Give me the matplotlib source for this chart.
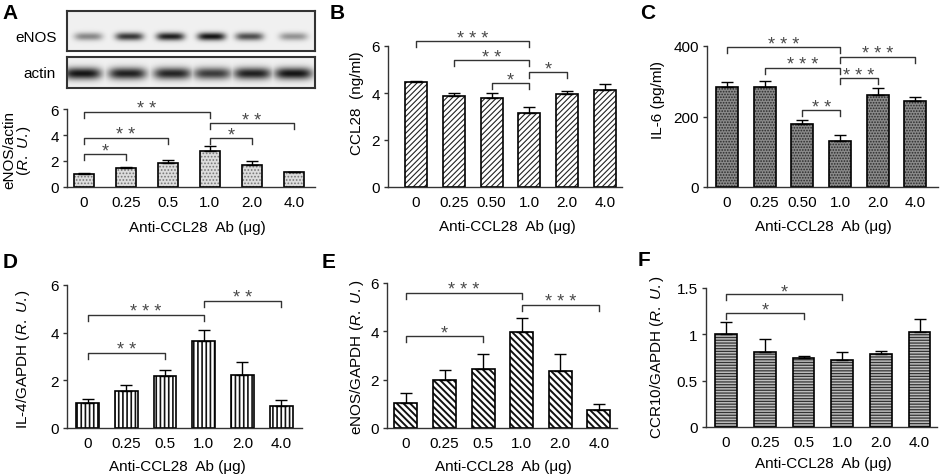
import numpy as np
import matplotlib
matplotlib.use("Agg")
import matplotlib.pyplot as plt

plt.rcParams['font.family'] = ['Liberation Sans', 'DejaVu Sans']
plt.rcParams['mathtext.fontset'] = 'custom'
plt.rcParams['mathtext.rm'] = 'Liberation Sans'
plt.rcParams['mathtext.it'] = 'Liberation Sans:italic'

# --- data ---
doses_short = ['0', '0.25', '0.5', '1.0', '2.0', '4.0']
doses_long = ['0', '0.25', '0.50', '1.0', '2.0', '4.0']

# western blot band strengths (0..1, darker = stronger)
enos_bands = [0.45, 0.8, 0.9, 0.95, 0.7, 0.4]
actin_bands = [0.95, 0.9, 0.88, 0.78, 0.9, 0.95]

enos_actin = [1.0, 1.49, 1.85, 2.8, 1.72, 1.18]
enos_actin_err = [0.1, 0.05, 0.23, 0.38, 0.28, 0.0]

ccl28 = [4.47, 3.87, 3.79, 3.14, 3.96, 4.14]
ccl28_err = [0.03, 0.15, 0.2, 0.28, 0.14, 0.24]

il6 = [284, 284, 179, 131, 262, 245]
il6_err = [14, 16, 12, 17, 18, 9]

il4 = [1.03, 1.54, 2.17, 3.66, 2.22, 0.94]
il4_err = [0.19, 0.28, 0.28, 0.47, 0.56, 0.23]

enos_gapdh = [1.02, 1.99, 2.46, 3.97, 2.36, 0.76]
enos_gapdh_err = [0.42, 0.41, 0.59, 0.59, 0.69, 0.23]

ccr10 = [1.0, 0.81, 0.75, 0.72, 0.79, 1.03]
ccr10_err = [0.13, 0.14, 0.015, 0.09, 0.03, 0.14]

# significance brackets: (from bar, to bar, height, stars)
sig_a = [(0, 3, 5.77, '* *'), (0, 2, 3.77, '* *'), (0, 1, 2.54, '*'),
         (3, 5, 4.92, '* *'), (3, 4, 3.77, '*')]
sig_b = [(0, 3, 6.21, '* * *'), (1, 3, 5.40, '* *'), (2, 3, 4.43, '*'), (3, 4, 4.89, '*')]
sig_c = [(0, 3, 397, '* * *'), (1, 3, 338, '* * *'), (3, 5, 369, '* * *'),
         (3, 4, 309, '* * *'), (2, 3, 218, '* *')]
sig_d = [(0, 3, 4.76, '* * *'), (0, 2, 3.15, '* *'), (3, 5, 5.34, '* *')]
sig_e = [(0, 3, 5.59, '* * *'), (0, 2, 3.80, '*'), (3, 5, 5.11, '* * *')]
sig_f = [(0, 3, 1.43, '*'), (0, 2, 1.23, '*')]

W, H = 941, 477
fig = plt.figure(figsize=(W / 100, H / 100), dpi=100)
fig.patch.set_facecolor('white')

FS = 11


def px_axes(left, top, right, bottom):
    return fig.add_axes([left / W, 1 - bottom / H, (right - left) / W, (bottom - top) / H])


def fig_text(x, y, s, **kw):
    fig.text(x / W, 1 - y / H, s, **kw)


def style(ax, ticks, ticklabels, ymax, xlim):
    for side in ['top', 'right']:
        ax.spines[side].set_visible(False)
    for side in ['left', 'bottom']:
        ax.spines[side].set_linewidth(1)
        ax.spines[side].set_color('#333333')
    ax.set_ylim(0, ymax)
    ax.set_xlim(*xlim)
    ax.set_yticks(ticks)
    ax.set_yticklabels(ticklabels)
    ax.tick_params(axis='x', length=0, pad=6, labelsize=FS)
    ax.tick_params(axis='y', length=3, width=1, pad=3, labelsize=FS, color='#333333')
    ax.set_facecolor('none')


def draw_bars(ax, vals, errs, labels, hatch, face, hcol, width, hlw):
    x = np.arange(len(vals))
    with plt.rc_context({'hatch.linewidth': hlw}):
        ax.bar(x, vals, width, color=face, hatch=hatch, edgecolor=hcol, linewidth=0)
    ax.bar(x, vals, width, fill=False, edgecolor='black', linewidth=1.2)
    ax.errorbar(x, vals, yerr=[np.zeros(len(vals)), errs], fmt='none', ecolor='black',
                elinewidth=1, capsize=4, capthick=1)
    ax.set_xticks(x)
    ax.set_xticklabels(labels)


def brackets(ax, sigs, ax_h_px):
    lo, hi = ax.get_ylim()
    drop = 6 / ax_h_px * (hi - lo)
    for i, j, y, lab in sigs:
        ax.plot([i, i, j, j], [y - drop, y, y, y - drop], color='#333333', lw=1, clip_on=False)
        ax.text((i + j) / 2, y - 1.5 / ax_h_px * (hi - lo), lab, ha='center', va='baseline',
                fontsize=13, color='#4a4a4a', clip_on=False)


def blot(ax, centers, strength, half_w, y_c, y_s, rows, cols):
    xx = np.arange(cols)[None, :]
    yy = np.arange(rows)[:, None]
    dark = np.zeros((rows, cols))
    for c, s in zip(centers, strength):
        dark = np.maximum(dark, s * np.exp(-((xx - c) / half_w) ** 4) * np.exp(-((yy - y_c) / y_s) ** 2))
    img = 0.94 - 0.9 * dark
    ax.imshow(img, cmap='gray', vmin=0, vmax=1, aspect='auto', interpolation='bilinear')
    ax.set_xticks([])
    ax.set_yticks([])
    for sp in ax.spines.values():
        sp.set_linewidth(1.5)
        sp.set_color('#333333')


xlabel = 'Anti-CCL28  Ab (\u03bcg)'

# ---- A: blots ----
ax_en = px_axes(67, 12, 315, 52)
blot(ax_en, [21, 62, 103, 144, 182, 226], enos_bands, 14, 25, 4, 40, 248)
ax_ac = px_axes(67, 58, 315, 89)
blot(ax_ac, [15, 60, 105, 145, 185, 226], actin_bands, 19, 16, 6, 31, 248)
fig_text(36, 38, 'eNOS', ha='center', va='center', fontsize=FS)
fig_text(56, 74, 'actin', ha='right', va='center', fontsize=FS)

# ---- A ----
ax = px_axes(67, 110, 315, 188)
draw_bars(ax, enos_actin, enos_actin_err, doses_short, '.....', '#dcdcdc', '#777777', 0.48, 0.8)
style(ax, [0, 2, 4, 6], ['0', '2', '4', '6'], 6, (-0.4, 5.5))
brackets(ax, sig_a, 78)
fig_text(197, 228, xlabel, ha='center', va='center', fontsize=FS)
fig_text(9, 150, 'eNOS/actin', rotation=90, ha='center', va='center', fontsize=FS)
fig_text(24, 150, r'($\mathit{R.\ U.}$)', rotation=90, ha='center', va='center', fontsize=FS)

# ---- B ----
ax = px_axes(388, 47, 622, 188)
draw_bars(ax, ccl28, ccl28_err, doses_long, '//////', 'white', '#222222', 0.58, 0.8)
style(ax, [0, 2, 4, 6], ['0', '2', '4', '6'], 6, (-0.74, 5.45))
brackets(ax, sig_b, 141)
fig_text(507, 227, xlabel, ha='center', va='center', fontsize=FS)
fig_text(357, 103, 'CCL28  (ng/ml)', rotation=90, ha='center', va='center', fontsize=FS)

# ---- C ----
ax = px_axes(707, 47, 938, 188)
draw_bars(ax, il6, il6_err, doses_long, '......', '#8a8a8a', '#2a2a2a', 0.58, 0.8)
style(ax, [0, 200, 400], ['0', '200', '400'], 400, (-0.53, 5.6))
brackets(ax, sig_c, 141)
fig_text(823, 227, xlabel, ha='center', va='center', fontsize=FS)
fig_text(658, 100, 'IL-6 (pg/ml)', rotation=90, ha='center', va='center', fontsize=FS)

# ---- D ----
ax = px_axes(67, 286, 302, 429)
draw_bars(ax, il4, il4_err, doses_short, '||||', 'white', '#111111', 0.59, 1.2)
style(ax, [0, 2, 4, 6], ['0', '2', '4', '6'], 6, (-0.53, 5.54))
brackets(ax, sig_d, 143)
fig_text(177, 467, xlabel, ha='center', va='center', fontsize=FS)
fig_text(23, 359, r'IL-4/GAPDH ($\mathit{R.\ U.}$)', rotation=90, ha='center', va='center', fontsize=FS)

# ---- E ----
ax = px_axes(387, 284, 617, 429)
draw_bars(ax, enos_gapdh, enos_gapdh_err, doses_short, '\\\\\\\\\\', 'white', '#111111', 0.6, 1.4)
style(ax, [0, 2, 4, 6], ['0', '2', '4', '6'], 6, (-0.49, 5.47))
brackets(ax, sig_e, 145)
fig_text(503, 467, xlabel, ha='center', va='center', fontsize=FS)
fig_text(357, 357, r'eNOS/GAPDH ($\mathit{R.\ U.}$)', rotation=90, ha='center', va='center', fontsize=FS)

# ---- F ----
ax = px_axes(706, 289, 937, 428)
draw_bars(ax, ccr10, ccr10_err, doses_short, '------', '#bdbdbd', '#333333', 0.56, 0.9)
style(ax, [0, 0.5, 1, 1.5], ['0', '0.5', '1', '1.5'], 1.5, (-0.52, 5.45))
brackets(ax, sig_f, 139)
fig_text(823, 464, xlabel, ha='center', va='center', fontsize=FS)
fig_text(657, 357, r'CCR10/GAPDH ($\mathit{R.\ U.}$)', rotation=90, ha='center', va='center', fontsize=FS)

# panel letters
for lab, x, y in [('A', 2, 4), ('B', 330, 4), ('C', 640, 4),
                  ('D', 3, 253), ('E', 322, 253), ('F', 638, 251)]:
    fig_text(x, y, lab, ha='left', va='top', fontsize=15, fontweight='bold')

fig.savefig('out.png', dpi=100, facecolor='white')
